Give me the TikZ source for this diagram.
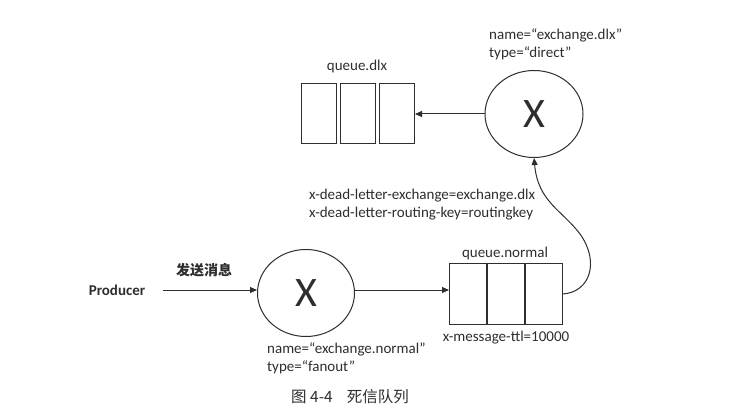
\documentclass[tikz,border=0pt]{standalone}
\usepackage{fontspec}
\setmainfont{Carlito}
\newfontfamily\cjk{Noto Sans CJK SC}
\usetikzlibrary{arrows.meta,shapes.geometric}
\definecolor{ink}{HTML}{2E2E2E}
\begin{document}
\begin{tikzpicture}[x=1pt,y=-1pt,
  every node/.style={text=ink, font=\fontsize{15}{18}\selectfont, inner sep=0pt},
  cell/.style={draw=ink, line width=1pt, minimum width=35pt, minimum height=60pt, inner sep=0pt},
  exch/.style={draw=ink, line width=1pt, ellipse, minimum width=97pt, minimum height=87pt, font=\fontsize{42}{44}\selectfont},
  conn/.style={draw=ink, line width=1pt, -{Triangle[length=7pt,width=6pt]}},
  lbl/.style={align=left, anchor=north west}]
\useasboundingbox[fill=white] (0,0) rectangle (735,419);
% queue.dlx
\node[cell] (d1) at (319,114) {};
\node[cell] (d2) at (358,114) {};
\node[cell] (d3) at (397,114) {};
\node (dlxlbl) at (357,67) {queue.dlx};
% exchange.dlx
\node[exch, minimum width=98pt] (xd) at (534,114) {X};
\node[lbl] (xdlbl) at (489,28) {name=\textquotedblleft exchange.dlx\textquotedblright\\type=\textquotedblleft direct\textquotedblright};
\node[lbl] (dlkeys) at (309,189) {x-dead-letter-exchange=exchange.dlx\\x-dead-letter-routing-key=routingkey};
% producer
\node[font=\bfseries\fontsize{15}{18}\selectfont] (prod) at (117,290) {Producer};
\node[font=\cjk\bfseries\fontsize{14}{16}\selectfont] (send) at (204,270) {发送消息};
% exchange.normal
\node[exch] (xn) at (306,293) {X};
\node[lbl] (xnlbl) at (267,342) {name=\textquotedblleft exchange.normal\textquotedblright\\type=\textquotedblleft fanout\textquotedblright};
% queue.normal
\node[cell, minimum width=37pt] (n1) at (468,294) {};
\node[cell, minimum width=37pt] (n2) at (506,294) {};
\node[cell, minimum width=37pt] (n3) at (544,294) {};
\node (nlbl) at (505,254) {queue.normal};
\node (ttl) at (506,338) {x-message-ttl=10000};
% caption
\node[font=\cjk\fontsize{15.5}{17}\selectfont] (cap) at (350,397) {图 4-4\hspace{14pt}死信队列};
% connectors
\coordinate (pstart) at (163,290);
\coordinate (pend) at (257,290);
\coordinate (mstart) at (355,290);
\draw[conn] (pstart) -- (pend);
\draw[conn] (mstart) -- (mstart -| n1.west);
\draw[conn] (xd.west) -- (d3.east);
\draw[conn] (n3.east) .. controls (590,292) and (600,262) .. (580,234)
  .. controls (562,210) and (538,202) .. (xd.south);
\end{tikzpicture}
\end{document}
